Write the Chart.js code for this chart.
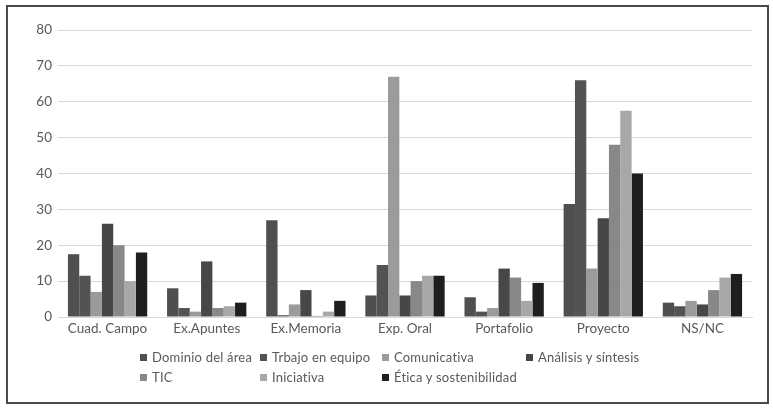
<!DOCTYPE html>
<html>
<head>
<meta charset="utf-8">
<script src="https://cdn.jsdelivr.net/npm/chart.js@4/dist/chart.umd.min.js"></script>
<style>
  html, body { margin: 0; padding: 0; background: #fff; }
  #wrap { position: relative; width: 773px; height: 408px; overflow: hidden; background: #fff; }
  #frame { position: absolute; left: 6px; top: 5px; width: 759px; height: 395px; border: 2px solid #4a4a4a; box-sizing: content-box; pointer-events: none; }
  canvas { position: absolute; left: 0; top: 0; }
  .lg { position: absolute; font-family: Lato, "Open Sans", sans-serif; font-size: 13px; letter-spacing: 0.2px; color: #595959; white-space: nowrap; line-height: 14px; }
  .lg i { display: inline-block; width: 7px; height: 7px; margin-right: 5px; vertical-align: 1px; }
</style>
</head>
<body>
<div id="wrap">
  <canvas id="c" width="773" height="408"></canvas>
  <div id="legend"></div>
  <div id="frame"></div>
</div>
<script>
const categories = ["Cuad. Campo", "Ex.Apuntes", "Ex.Memoria", "Exp. Oral", "Portafolio", "Proyecto", "NS/NC"];
const seriesNames = ["Dominio del área", "Trbajo en equipo", "Comunicativa", "Análisis y síntesis", "TIC", "Iniciativa", "Ética y sostenibilidad"];
const dominio     = [17.5, 8,   27,  6,   5.5, 31.5, 4];
const trabajo     = [11.5, 2.5, 0.5, 14.5, 1.5, 66,  3];
const comunicativa= [7,    1.5, 3.5, 67,  2.5, 13.5, 4.5];
const analisis    = [26,   15.5, 7.5, 6,  13.5, 27.5, 3.5];
const tic         = [20,   2.5, 0.3, 10,  11,  48,   7.5];
const iniciativa  = [10,   3,   1.5, 11.5, 4.5, 57.5, 11];
const etica       = [18,   4,   4.5, 11.5, 9.5, 40,   12];
const yTicks = [0, 10, 20, 30, 40, 50, 60, 70, 80];

const colors = ["#4f4f4f", "#535353", "#9b9b9b", "#474747", "#888888", "#a8a8a8", "#1e1e1e"];
const values = [dominio, trabajo, comunicativa, analisis, tic, iniciativa, etica];

const datasets = seriesNames.map((n, i) => ({
  label: n,
  data: values[i],
  backgroundColor: colors[i],
  borderWidth: 0,
  barPercentage: 1.0,
  categoryPercentage: 0.8
}));

const font = { family: "Lato, 'Open Sans', sans-serif", size: 13.5 };

new Chart(document.getElementById('c'), {
  type: 'bar',
  data: { labels: categories, datasets },
  options: {
    responsive: false,
    animation: false,
    devicePixelRatio: 1,
    layout: { padding: { left: 0, right: 21, top: 30, bottom: 0 } },
    plugins: { legend: { display: false }, tooltip: { enabled: false } },
    scales: {
      x: {
        grid: { display: false, drawTicks: false },
        border: { display: true, color: '#d9d9d9' },
        ticks: { color: '#595959', font, padding: 4, maxRotation: 0, autoSkip: false },
        afterFit: s => { s.height = 91; }
      },
      y: {
        min: 0, max: 80,
        afterBuildTicks: s => { s.ticks = yTicks.map(v => ({ value: v })); },
        grid: { color: '#d9d9d9', lineWidth: 1, drawTicks: false },
        border: { display: false },
        ticks: { color: '#595959', font, padding: 6 },
        afterFit: s => { s.width = 58; }
      }
    }
  }
});

const legendPos = [
  [140, 350], [260, 350], [382, 350], [526, 350],
  [140, 370], [260, 370], [382, 370]
];
const lg = document.getElementById('legend');
seriesNames.forEach((n, i) => {
  const d = document.createElement('div');
  d.className = 'lg';
  d.style.left = legendPos[i][0] + 'px';
  d.style.top = legendPos[i][1] + 'px';
  const m = document.createElement('i');
  m.style.background = colors[i];
  d.appendChild(m);
  d.appendChild(document.createTextNode(n));
  lg.appendChild(d);
});
</script>
</body>
</html>
